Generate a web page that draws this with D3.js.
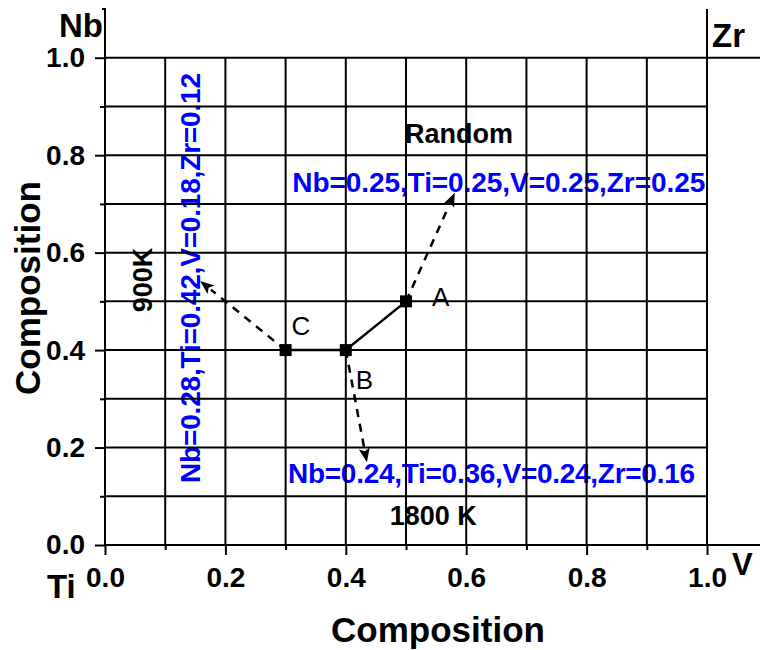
<!DOCTYPE html>
<html>
<head>
<meta charset="utf-8">
<script src="https://cdn.jsdelivr.net/npm/d3@7/dist/d3.min.js"></script>
<style>
  html, body { margin: 0; padding: 0; background: #fff; }
  svg { display: block; font-family: "Liberation Sans", Arial, sans-serif; }
</style>
</head>
<body>
<svg id="chart" width="760" height="650"></svg>
<script>
// Composition path points (x = V fraction, y = Nb fraction)
const pointNames = ["C", "B", "A"];
const pointX = [0.3, 0.4, 0.5];
const pointY = [0.4, 0.4, 0.5];

// Dashed arrows: from each point toward its composition label
const arrowFrom = ["A", "B", "C"];
const arrowToX = [0.581, 0.435, 0.158];
const arrowToY = [0.723, 0.170, 0.542];

// Tick values
const majorTicks = [0.0, 0.2, 0.4, 0.6, 0.8, 1.0];
const minorTicks = [0.1, 0.3, 0.5, 0.7, 0.9];
const gridValues = [0.1, 0.2, 0.3, 0.4, 0.5, 0.6, 0.7, 0.8, 0.9];

// Composition labels
const labelRandom = "Nb=0.25,Ti=0.25,V=0.25,Zr=0.25";
const label1800 = "Nb=0.24,Ti=0.36,V=0.24,Zr=0.16";
const label900 = "Nb=0.28,Ti=0.42,V=0.18,Zr=0.12";

const svg = d3.select("#chart");
const x = d3.scaleLinear().domain([0, 1.088]).range([105, 760]);
const y = d3.scaleLinear().domain([0, 1.1]).range([545, 9]);

const ink = "#000";
const blue = "#0000ff";

// ---- annotation text (drawn below the grid) ----
const txt = svg.append("g").attr("font-weight", "bold");
txt.append("text").attr("x", x(0.588)).attr("y", y(0.825))
  .attr("text-anchor", "middle").attr("font-size", 27).attr("fill", ink)
  .attr("textLength", 108).text("Random");
txt.append("text").attr("x", x(0.311)).attr("y", y(0.725))
  .attr("font-size", 28).attr("fill", blue).attr("textLength", 413).text(labelRandom);
txt.append("text").attr("x", x(0.304)).attr("y", y(0.127))
  .attr("font-size", 28).attr("fill", blue).attr("textLength", 407).text(label1800);
txt.append("text").attr("x", x(0.473)).attr("y", y(0.041))
  .attr("font-size", 27).attr("fill", ink).attr("textLength", 87).text("1800 K");
txt.append("text")
  .attr("transform", `translate(${x(0.078)},${y(0.544)}) rotate(-90)`)
  .attr("text-anchor", "middle").attr("font-size", 27).attr("fill", ink).text("900K");
txt.append("text")
  .attr("transform", `translate(${x(0.158)},${y(0.548)}) rotate(-90)`)
  .attr("text-anchor", "middle").attr("font-size", 28).attr("fill", blue)
  .attr("textLength", 410).text(label900);

// ---- grid ----
const grid = svg.append("g").attr("stroke", ink).attr("stroke-width", 2);
grid.selectAll(".gv").data(gridValues).join("line")
  .attr("x1", d => x(d)).attr("x2", d => x(d))
  .attr("y1", y(0)).attr("y2", y(1));
grid.selectAll(".gh").data(gridValues).join("line")
  .attr("y1", d => y(d)).attr("y2", d => y(d))
  .attr("x1", x(0)).attr("x2", x(1));
// boundary lines at composition 1.0
grid.append("line").attr("x1", x(1)).attr("x2", x(1)).attr("y1", y(0)).attr("y2", y(1.1));
grid.append("line").attr("x1", x(0)).attr("x2", x(1.088)).attr("y1", y(1)).attr("y2", y(1));

// ---- axes ----
const tickFont = 28;
const xAxis = d3.axisBottom(x).tickValues(majorTicks).tickSize(10).tickPadding(6)
  .tickFormat(d3.format(".1f"));
const xMinor = d3.axisBottom(x).tickValues(minorTicks).tickSize(5).tickFormat("");
const yAxis = d3.axisLeft(y).tickValues(majorTicks).tickSize(10).tickPadding(6)
  .tickFormat(d3.format(".1f"));
const yMinor = d3.axisLeft(y).tickValues(minorTicks).tickSize(5).tickFormat("");

function styleAxis(g) {
  g.select(".domain").attr("stroke", ink).attr("stroke-width", 2);
  g.selectAll(".tick line").attr("stroke", ink).attr("stroke-width", 2);
  g.selectAll(".tick text").attr("fill", ink).attr("font-size", tickFont)
    .attr("font-weight", "bold").attr("font-family", "Liberation Sans, Arial, sans-serif");
}

const gx = svg.append("g").attr("transform", `translate(0,${y(0)})`).call(xAxis).call(styleAxis);
gx.select(".domain").attr("d", `M${x(0)},0H${x(1.088)}`);
gx.selectAll(".tick text").attr("dy", "0.71em").attr("y", 22);
svg.append("g").attr("transform", `translate(0,${y(0)})`).call(xMinor).call(styleAxis)
  .select(".domain").remove();

const gy = svg.append("g").attr("transform", `translate(${x(0)},0)`).call(yAxis).call(styleAxis);
gy.select(".domain").attr("d", `M-3,${y(1.1)}H0V${y(0)}`);
gy.selectAll(".tick text").attr("x", -20);
svg.append("g").attr("transform", `translate(${x(0)},0)`).call(yMinor).call(styleAxis)
  .select(".domain").remove();

// ---- corner element labels ----
const corner = svg.append("g").attr("font-weight", "bold").attr("fill", ink).attr("font-size", 33);
corner.append("text").attr("x", 103).attr("y", 37).attr("text-anchor", "end").text("Nb");
corner.append("text").attr("x", 712).attr("y", 47).text("Zr");
corner.append("text").attr("x", 47).attr("y", 598).text("Ti");
corner.append("text").attr("x", 732).attr("y", 575).attr("font-size", 31).text("V");

// ---- axis titles ----
svg.append("text").attr("x", 438).attr("y", 642).attr("text-anchor", "middle")
  .attr("font-size", 35).attr("font-weight", "bold").attr("fill", ink).text("Composition");
svg.append("text").attr("transform", "translate(40,288) rotate(-90)")
  .attr("text-anchor", "middle").attr("font-size", 35).attr("font-weight", "bold")
  .attr("fill", ink).text("Composition");

// ---- path between points ----
const pts = pointNames.map((n, i) => ({ name: n, x: pointX[i], y: pointY[i] }));
const byName = Object.fromEntries(pts.map(p => [p.name, p]));

svg.append("path")
  .attr("d", d3.line().x(d => x(d.x)).y(d => y(d.y))(pts))
  .attr("fill", "none").attr("stroke", ink).attr("stroke-width", 2.5);

// ---- dashed arrows ----
const arrows = arrowFrom.map((n, i) => ({ from: byName[n], tx: arrowToX[i], ty: arrowToY[i] }));
const head = 14, halfW = 5.5;
arrows.forEach(a => {
  const x0 = x(a.from.x), y0 = y(a.from.y), x1 = x(a.tx), y1 = y(a.ty);
  const dx = x1 - x0, dy = y1 - y0, len = Math.hypot(dx, dy);
  const ux = dx / len, uy = dy / len;
  const bx = x1 - ux * head, by = y1 - uy * head;
  svg.append("line").attr("x1", x0).attr("y1", y0).attr("x2", bx).attr("y2", by)
    .attr("stroke", ink).attr("stroke-width", 2.5).attr("stroke-dasharray", "8,7");
  svg.append("path")
    .attr("d", `M${x1},${y1}L${bx - uy * halfW},${by + ux * halfW}L${bx + ux * 3},${by + uy * 3}L${bx + uy * halfW},${by - ux * halfW}Z`)
    .attr("fill", ink);
});

// ---- square markers ----
svg.selectAll(".pt").data(pts).join("rect")
  .attr("x", d => x(d.x) - 6).attr("y", d => y(d.y) - 6)
  .attr("width", 12).attr("height", 12).attr("fill", ink);

// ---- point letters ----
const letterDx = { A: 26, B: 10, C: 6 };
const letterDy = { A: 5, B: 39, C: -15 };
svg.selectAll(".lbl").data(pts).join("text")
  .attr("x", d => x(d.x) + letterDx[d.name]).attr("y", d => y(d.y) + letterDy[d.name])
  .attr("font-size", 26).attr("fill", ink).text(d => d.name);
</script>
</body>
</html>
